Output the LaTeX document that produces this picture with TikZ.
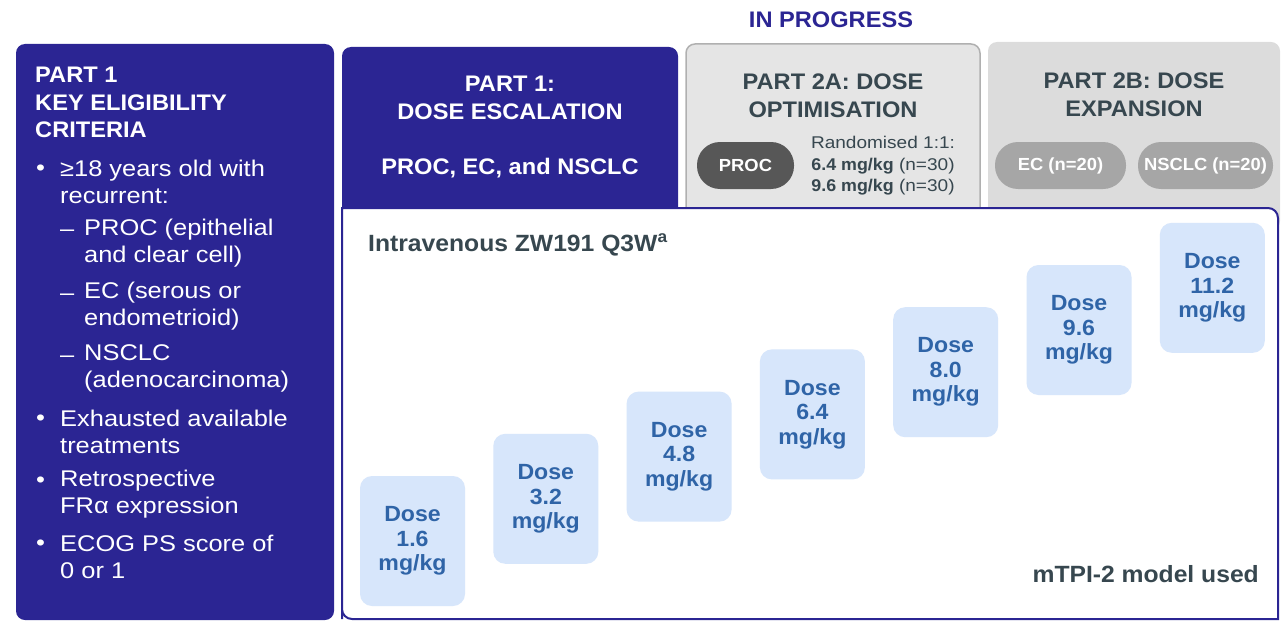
\documentclass[tikz,border=0pt]{standalone}
\usepackage{fontspec}
\setmainfont{Liberation Sans}[FakeStretch=1.12, BoldFeatures={FakeStretch=1.05}]
\usepackage{xcolor}
\usepackage{tikz}
\usetikzlibrary{positioning}

\definecolor{navy}{HTML}{2B2593}
\definecolor{slate}{HTML}{37474F}
\definecolor{greyA}{HTML}{E5E5E5}
\definecolor{greyB}{HTML}{DCDCDC}
\definecolor{greyline}{HTML}{B0B0B0}
\definecolor{pilldark}{HTML}{575757}
\definecolor{pilllight}{HTML}{A6A6A6}
\definecolor{dosefill}{HTML}{D7E6FB}
\definecolor{dosetext}{HTML}{2F64A7}

\begin{document}
\begin{tikzpicture}[x=1pt, y=-1pt,
      hdr/.style={font=\fontsize{22.5}{27.5}\selectfont\bfseries, align=center, inner sep=0pt},
      crit/.style={font=\fontsize{22.7}{27}\selectfont, text=white, align=left,
                   anchor=west, inner sep=0pt},
      bulletmark/.style={crit, anchor=base west},
      pill/.style={rounded corners=23pt, minimum height=47pt, inner sep=0pt,
                   text=white, font=\fontsize{17.5}{18}\selectfont\bfseries},
      dosebox/.style={fill=dosefill, text=dosetext, rounded corners=12pt, align=center,
                      minimum width=105pt, minimum height=130pt, inner sep=0pt,
                      font=\fontsize{22}{24.5}\selectfont\bfseries},
      note/.style={text=slate, inner sep=0pt, font=\fontsize{23.5}{24}\selectfont\bfseries}]

    \useasboundingbox (0,0) rectangle (1287,623);

    % the panels behind; the white dose box is laid over the lower edge of the headers
    \fill[navy, rounded corners=9pt] (16,44) rectangle (334,620);
    \fill[navy, rounded corners=9pt] (342,47) rectangle (678,230);
    \filldraw[fill=greyA, draw=greyline, line width=1.5pt, rounded corners=9pt]
      (686,44) rectangle (980,230);
    \fill[greyB, rounded corners=9pt] (988,42) rectangle (1280,230);
    \filldraw[fill=white, draw=navy, line width=2pt]
      (342,619) -- (342,208) [rounded corners=10pt] -- (1278,208) [sharp corners]
      -- (1278,619) [rounded corners=10pt] -- (342,619) [sharp corners] -- cycle;

    \node[hdr, text=navy] (prog) at (831,20) {IN PROGRESS};

    % eligibility criteria
    \node[hdr, text=white, align=left, anchor=north west] (crithead) at (35,67)
      {PART 1\\KEY ELIGIBILITY\\CRITERIA};
    \node[crit] (c1) at (60,182) {≥18 years old with\\recurrent:};
    \node[crit] (c1a) at (84,243) {PROC (epithelial\\and clear cell)};
    \node[crit] (c1b) at (84,306) {EC (serous or\\endometrioid)};
    \node[crit] (c1c) at (84,368) {NSCLC\\(adenocarcinoma)};
    \node[crit] (c2) at (60,432) {Exhausted available\\treatments};
    \node[crit] (c3) at (60,494) {Retrospective\\FRα expression};
    \node[crit] (c4) at (60,557) {ECOG PS score of\\0 or 1};
    \foreach \y/\n in {175/1, 425/2, 487/3, 550/4}
      \node[bulletmark] (dot\n) at (36,\y) {•};
    \foreach \y/\n in {236/a, 300/b, 362/c}
      \node[bulletmark] (dash\n) at (60,\y) {–};

    % part 1 header
    \node[hdr, text=white] (p1) at (510,98) {PART 1:\\DOSE ESCALATION};
    \node[hdr, text=white] (p1ind) at (510,168) {PROC, EC, and NSCLC};

    % part 2a
    \node[hdr, text=slate] (p2a) at (833,96) {PART 2A: DOSE\\OPTIMISATION};
    \node[pill, fill=pilldark, minimum width=97pt] (proc) at (745.5,165.5) {PROC};
    \node[text=slate, align=center, inner sep=0pt,
          font=\fontsize{17}{21.5}\selectfont] (rand) at (883,166)
      {Randomised 1:1:\\\textbf{6.4 mg/kg} (n=30)\\\textbf{9.6 mg/kg} (n=30)};

    % part 2b
    \node[hdr, text=slate] (p2b) at (1134,95) {PART 2B: DOSE\\EXPANSION};
    \node[pill, fill=pilllight, minimum width=131pt] (ec) at (1060.5,165.5) {EC (n=20)};
    \node[pill, fill=pilllight, minimum width=135pt] (nsclc) at (1205.5,165.5)
      {NSCLC (n=20)};

    % dose escalation steps
    \node[note, anchor=west] (iv) at (368,245) {Intravenous ZW191 Q3W\textsuperscript{a}};
    \foreach \d [count=\i from 0] in {1.6, 3.2, 4.8, 6.4, 8.0, 9.6, 11.2}
      \node[dosebox] (dose\i) at (412.5+133.3*\i, 541-42.2*\i) {Dose\\\d\\mg/kg};
    \node[note, anchor=east] (mtpi) at (1259,574) {mTPI-2 model used};
  \end{tikzpicture}
\end{document}
